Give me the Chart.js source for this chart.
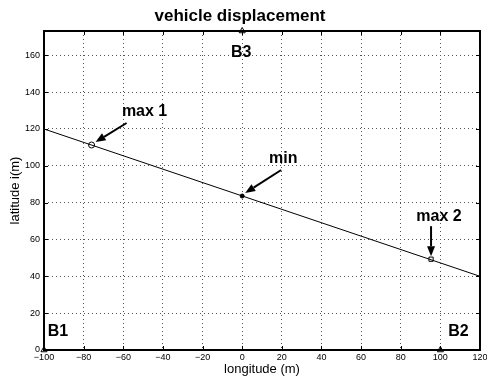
<!DOCTYPE html>
<html>
<head>
<meta charset="utf-8">
<script src="https://cdn.jsdelivr.net/npm/chart.js@4"></script>
<style>
  html, body { margin: 0; padding: 0; background: #fff; }
  #wrap { width: 487px; height: 378px; }
</style>
</head>
<body>
<div id="wrap"><canvas id="chart"></canvas></div>
<script>
// data
const lineLon = [-100, 120];
const lineLat = [120, 40];

const pointNames = ['max 1', 'min', 'max 2'];
const pointLon = [-76, 0, 95.3];
const pointLat = [111.3, 83.6, 49.3];

const beaconNames = ['B1', 'B2', 'B3'];
const beaconLon = [-100, 100, 0];
const beaconLat = [0, 0, 173.2];

const xTicks = [-100, -80, -60, -40, -20, 0, 20, 40, 60, 80, 100, 120];
const xTickLabels = ['\u2212100', '\u221280', '\u221260', '\u221240', '\u221220', '0', '20', '40', '60', '80', '100', '120'];
const yTicks = [0, 20, 40, 60, 80, 100, 120, 140, 160];
const yTickLabels = ['0', '20', '40', '60', '80', '100', '120', '140', '160'];

const FONT = 'Liberation Sans, Arial, Helvetica, sans-serif';

// label / arrow offsets in px from each marked point
const pointNotes = [
  { dx: 53, dy: -33, tail: [35, -22], tip: [4, -3] },
  { dx: 41, dy: -37, tail: [39, -26], tip: [3, -3] },
  { dx: 8, dy: -43, tail: [0, -33], tip: [0, -3] }
];
const beaconNotes = [[14, -18], [18, -18], [-1, 22]];

function arrow(ctx, x1, y1, x2, y2) {
  const a = Math.atan2(y2 - y1, x2 - x1);
  const hl = 10, hw = 4;
  const bx = x2 - hl * Math.cos(a), by = y2 - hl * Math.sin(a);
  ctx.beginPath();
  ctx.moveTo(x1, y1);
  ctx.lineTo(bx, by);
  ctx.lineWidth = 2;
  ctx.stroke();
  ctx.beginPath();
  ctx.moveTo(x2, y2);
  ctx.lineTo(bx + hw * Math.sin(a), by - hw * Math.cos(a));
  ctx.lineTo(bx - hw * Math.sin(a), by + hw * Math.cos(a));
  ctx.closePath();
  ctx.fill();
}

const frame = {
  id: 'frame',
  afterDatasetsDraw(chart) {
    const { ctx, chartArea: a, scales: { x, y } } = chart;
    ctx.save();
    ctx.strokeStyle = '#000';
    ctx.fillStyle = '#000';
    // inward ticks
    ctx.lineWidth = 1;
    ctx.beginPath();
    xTicks.forEach(v => {
      const px = Math.round(x.getPixelForValue(v)) + 0.5;
      ctx.moveTo(px, a.bottom); ctx.lineTo(px, a.bottom - 4);
      ctx.moveTo(px, a.top); ctx.lineTo(px, a.top + 4);
    });
    yTicks.forEach(v => {
      const py = Math.round(y.getPixelForValue(v)) + 0.5;
      ctx.moveTo(a.left, py); ctx.lineTo(a.left + 4, py);
      ctx.moveTo(a.right, py); ctx.lineTo(a.right - 4, py);
    });
    ctx.stroke();
    // box
    ctx.lineWidth = 2;
    ctx.strokeRect(a.left, a.top, a.right - a.left, a.bottom - a.top);

    // annotations
    ctx.font = 'bold 16px ' + FONT;
    ctx.textAlign = 'center';
    ctx.textBaseline = 'middle';
    pointNames.forEach((name, i) => {
      const px = x.getPixelForValue(pointLon[i]);
      const py = y.getPixelForValue(pointLat[i]);
      const n = pointNotes[i];
      ctx.fillText(name, px + n.dx, py + n.dy);
      arrow(ctx, px + n.tail[0], py + n.tail[1], px + n.tip[0], py + n.tip[1]);
    });
    beaconNames.forEach((name, i) => {
      const px = x.getPixelForValue(beaconLon[i]);
      const py = y.getPixelForValue(beaconLat[i]);
      ctx.fillText(name, px + beaconNotes[i][0], py + beaconNotes[i][1]);
    });
    ctx.restore();
  }
};

new Chart(document.getElementById('chart'), {
  type: 'scatter',
  data: {
    datasets: [
      {
        label: 'path',
        data: lineLon.map((v, i) => ({ x: v, y: lineLat[i] })),
        showLine: true,
        borderColor: '#000',
        borderWidth: 1,
        pointRadius: 0
      },
      {
        label: 'points',
        data: pointLon.map((v, i) => ({ x: v, y: pointLat[i] })),
        pointStyle: ['circle', 'circle', 'rect'],
        pointRadius: [3, 2, 3],
        borderColor: '#000',
        borderWidth: 1,
        backgroundColor: ['rgba(0,0,0,0)', '#000', 'rgba(0,0,0,0)']
      },
      {
        label: 'beacons',
        data: beaconLon.map((v, i) => ({ x: v, y: beaconLat[i] })),
        pointStyle: 'triangle',
        pointRadius: 3.5,
        borderColor: '#000',
        borderWidth: 1,
        backgroundColor: 'rgba(0,0,0,0)',
        clip: false
      }
    ]
  },
  options: {
    responsive: true,
    maintainAspectRatio: false,
    animation: false,
    layout: { padding: { right: 7 } },
    plugins: {
      legend: { display: false },
      tooltip: { enabled: false },
      title: {
        display: true,
        text: 'vehicle displacement',
        color: '#000',
        font: { family: FONT, size: 17, weight: 'bold' },
        padding: { top: 6, bottom: 4.6 }
      }
    },
    scales: {
      x: {
        type: 'linear',
        min: -100,
        max: 120,
        afterBuildTicks: s => { s.ticks = xTicks.map(v => ({ value: v })); },
        afterFit: s => { s.height = 28; s.paddingRight = 7; s.paddingLeft = 0; },
        border: { display: false, dash: [1, 3] },
        grid: { color: '#555', lineWidth: 1, drawTicks: false },
        ticks: {
          color: '#000',
          padding: 2,
          maxRotation: 0,
          font: { family: FONT, size: 9 },
          callback: (v) => xTickLabels[xTicks.indexOf(v)]
        },
        title: {
          display: true,
          text: 'longitude (m)',
          color: '#000',
          font: { family: FONT, size: 13 },
          padding: { top: 0, bottom: 1 }
        }
      },
      y: {
        type: 'linear',
        min: 0,
        max: 173.2,
        afterBuildTicks: s => { s.ticks = yTicks.map(v => ({ value: v })); },
        afterFit: s => { s.width = 44; },
        border: { display: false, dash: [1, 3] },
        grid: { color: '#555', lineWidth: 1, drawTicks: false },
        ticks: {
          color: '#000',
          padding: 4,
          font: { family: FONT, size: 9 },
          callback: (v) => yTickLabels[yTicks.indexOf(v)]
        },
        title: {
          display: true,
          text: 'latitude i(m)',
          color: '#000',
          font: { family: FONT, size: 13 },
          padding: { top: 8, bottom: 0 }
        }
      }
    }
  },
  plugins: [frame]
});
</script>
</body>
</html>
